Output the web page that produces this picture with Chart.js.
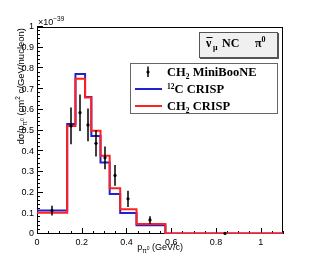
<!DOCTYPE html>
<html><head><meta charset="utf-8">
<script src="https://cdn.jsdelivr.net/npm/chart.js@4/dist/chart.umd.min.js"></script>
<style>html,body{margin:0;padding:0;background:#fff;}#wrap{width:315px;height:276px;}</style>
</head><body><div id="wrap"><canvas id="c" width="315" height="276"></canvas></div>
<script>
// ---- data (values in units of 1e-39 cm^2 c/GeV/nucleon) ----
const binEdges = [0, 0.135, 0.172, 0.215, 0.243, 0.284, 0.325, 0.372, 0.445, 0.574, 1.1];
const crispC12 = [0.113, 0.531, 0.773, 0.662, 0.474, 0.346, 0.193, 0.101, 0.042, 0.002];
const crispCH2 = [0.103, 0.522, 0.750, 0.660, 0.499, 0.378, 0.221, 0.119, 0.048, 0.003];
const dataX   = [0.067, 0.151, 0.193, 0.227, 0.263, 0.302, 0.347, 0.407, 0.504, 0.839];
const dataY   = [0.113, 0.522, 0.586, 0.527, 0.438, 0.368, 0.283, 0.170, 0.068, 0.003];
const dataErr = [0.024, 0.089, 0.088, 0.079, 0.063, 0.055, 0.050, 0.039, 0.018, 0.002];
const xTicks = [0, 0.2, 0.4, 0.6, 0.8, 1];
const yTicks = [0, 0.1, 0.2, 0.3, 0.4, 0.5, 0.6, 0.7, 0.8, 0.9, 1];
const legendLabels = ['CH', ' MiniBooNE', 'C CRISP', 'CH', ' CRISP'];

const BLUE = '#2222cc', RED = '#ff2020';

function histPoints(vals) {
  const pts = vals.map((v, i) => ({x: binEdges[i], y: v}));
  pts.push({x: binEdges[binEdges.length - 1], y: vals[vals.length - 1]});
  return pts;
}

const SANS = '"Liberation Sans", Arial, sans-serif';
const SERIF = '"Liberation Serif", "Times New Roman", serif';

function drawRuns(ctx, runs, x, y, align) {
  // runs: [text, fontSize, dy, bold, family]
  let total = 0;
  runs.forEach(r => { ctx.font = (r[3] ? 'bold ' : '') + r[1] + 'px ' + (r[4] || SANS); total += ctx.measureText(r[0]).width; });
  let cx = align === 'right' ? x - total : x;
  ctx.textAlign = 'left';
  runs.forEach(r => {
    ctx.font = (r[3] ? 'bold ' : '') + r[1] + 'px ' + (r[4] || SANS);
    ctx.fillText(r[0], cx, y + r[2]);
    cx += ctx.measureText(r[0]).width;
  });
  return total;
}

const rootDecor = {
  id: 'rootDecor',
  beforeDatasetsDraw(chart) {
    const {ctx, chartArea: a, scales: {x, y}} = chart;
    ctx.save();
    ctx.strokeStyle = '#000';
    ctx.lineWidth = 1;
    ctx.strokeRect(a.left + 0.5, a.top + 0.5, a.right - a.left - 1, a.bottom - a.top - 1);
    ctx.beginPath();
    for (let i = 0; i <= 50; i++) {
      const v = i * 0.02;
      const py = Math.round(y.getPixelForValue(v)) - 0.5;
      const len = (i % 5 === 0) ? 6 : 3;
      ctx.moveTo(a.left, py); ctx.lineTo(a.left + len, py);
    }
    for (let i = 0; i <= 22; i++) {
      const v = i * 0.05;
      const px = Math.round(x.getPixelForValue(v)) + 0.5;
      const len = (i % 4 === 0) ? 6 : 3;
      ctx.moveTo(px, a.bottom); ctx.lineTo(px, a.bottom - len);
    }
    ctx.stroke();
    ctx.restore();
  },
  afterDatasetsDraw(chart) {
    const {ctx, scales: {x, y}} = chart;
    ctx.save();
    ctx.strokeStyle = '#000';
    ctx.lineWidth = 1.5;
    ctx.beginPath();
    dataX.forEach((xv, i) => {
      const px = Math.round(x.getPixelForValue(xv));
      ctx.moveTo(px, y.getPixelForValue(dataY[i] + dataErr[i]));
      ctx.lineTo(px, y.getPixelForValue(Math.max(0, dataY[i] - dataErr[i])));
    });
    ctx.stroke();
    ctx.fillStyle = '#000';
    dataX.forEach((xv, i) => {
      ctx.beginPath();
      ctx.arc(Math.round(x.getPixelForValue(xv)), y.getPixelForValue(dataY[i]), 1.6, 0, Math.PI * 2);
      ctx.fill();
    });
    ctx.restore();
  },
  afterDraw(chart) {
    const {ctx, chartArea: a} = chart;
    ctx.save();
    ctx.fillStyle = '#000';
    ctx.textBaseline = 'alphabetic';
    // exponent
    drawRuns(ctx, [['\u00d710', 9, 0], ['\u221239', 6.5, -4]], 38, 25, 'left');
    // x title
    drawRuns(ctx, [['p', 9, 0], ['\u03c0', 6.5, 2.5], ['0', 5, -0.5], [' (GeV/c)', 9, 0]], 183, 250, 'right');
    // y title (rotated)
    ctx.save();
    ctx.translate(24, a.top + 1);
    ctx.rotate(-Math.PI / 2);
    drawRuns(ctx, [['d\u03c3/p', 9.5, 0], ['\u03c0', 6.5, 2.5], ['0', 5, -0.5], [' (cm', 9.5, 0], ['2', 6.5, -4], [' c/GeV/nucleon)', 9.5, 0]], 0, 0, 'right');
    ctx.restore();

    // title pave
    const bx = 199, by = 32, bw = 79, bh = 26;
    ctx.fillStyle = '#555';
    ctx.fillRect(bx + 1, by + 1, bw, bh);
    ctx.fillStyle = '#f0f0f0';
    ctx.fillRect(bx, by, bw, bh);
    ctx.strokeStyle = '#555';
    ctx.lineWidth = 1;
    ctx.strokeRect(bx + 0.5, by + 0.5, bw - 1, bh - 1);
    ctx.fillStyle = '#000';
    const tb = 47;
    ctx.font = 'bold 12px ' + SERIF;
    ctx.fillText('\u03bd', 206, tb);
    ctx.fillRect(206.5, tb - 10, 6, 1);
    drawRuns(ctx, [['\u03bc', 8, 2.5, true, SERIF]], 213, tb, 'left');
    drawRuns(ctx, [['NC', 12, 0, true, SERIF]], 222, tb, 'left');
    drawRuns(ctx, [['\u03c0', 12, 0, true, SERIF], ['0', 8, -5, true, SERIF]], 255, tb, 'left');

    // legend
    const lx = 130, ly = 63, lw = 148, lh = 51;
    ctx.fillStyle = '#fff';
    ctx.fillRect(lx, ly, lw, lh);
    ctx.strokeStyle = '#666';
    ctx.strokeRect(lx + 0.5, ly + 0.5, lw - 1, lh - 1);
    // marker entry
    ctx.strokeStyle = '#000';
    ctx.lineWidth = 1.5;
    ctx.beginPath(); ctx.moveTo(148, 66.5); ctx.lineTo(148, 77); ctx.stroke();
    ctx.fillStyle = '#000';
    ctx.beginPath(); ctx.arc(148, 72, 1.6, 0, Math.PI * 2); ctx.fill();
    ctx.lineWidth = 2;
    ctx.strokeStyle = chart.data.datasets[1].borderColor;
    ctx.beginPath(); ctx.moveTo(135, 89); ctx.lineTo(162, 89); ctx.stroke();
    ctx.strokeStyle = chart.data.datasets[2].borderColor;
    ctx.beginPath(); ctx.moveTo(135, 106); ctx.lineTo(162, 106); ctx.stroke();
    ctx.fillStyle = '#000';
    drawRuns(ctx, [[legendLabels[0], 12.5, 0, true, SERIF], ['2', 7.5, 2.5, true, SERIF], [legendLabels[1], 12.5, 0, true, SERIF]], 167, 76, 'left');
    drawRuns(ctx, [['12', 7.5, -4.5, true, SERIF], [legendLabels[2], 12.5, 0, true, SERIF]], 167, 93, 'left');
    drawRuns(ctx, [[legendLabels[3], 12.5, 0, true, SERIF], ['2', 7.5, 2.5, true, SERIF], [legendLabels[4], 12.5, 0, true, SERIF]], 167, 110, 'left');
    ctx.restore();
  }
};

new Chart(document.getElementById('c'), {
  type: 'line',
  data: {
    datasets: [
      {label: 'CH2 MiniBooNE', data: dataX.map((v, i) => ({x: v, y: dataY[i]})), showLine: false, pointRadius: 0, order: 0},
      {label: '12C CRISP', data: histPoints(crispC12), borderColor: BLUE, borderWidth: 2, stepped: 'before', pointRadius: 0, fill: false, order: 2},
      {label: 'CH2 CRISP', data: histPoints(crispCH2), borderColor: RED, borderWidth: 2, stepped: 'before', pointRadius: 0, fill: false, order: 1}
    ]
  },
  options: {
    responsive: false,
    animation: false,
    devicePixelRatio: 1,
    layout: {padding: {top: 27, right: 32, left: 0, bottom: 0}},
    plugins: {legend: {display: false}, tooltip: {enabled: false}, title: {display: false}},
    scales: {
      x: {
        type: 'linear', min: 0, max: 1.1,
        afterBuildTicks: s => { s.ticks = xTicks.map(v => ({value: v})); },
        afterFit: s => { s.height = 42; },
        grid: {display: false, drawTicks: false},
        border: {display: false},
        ticks: {padding: 3, color: '#000', font: {family: SANS, size: 9}, maxRotation: 0, autoSkip: false,
                callback: v => String(Math.round(v * 10) / 10)}
      },
      y: {
        type: 'linear', min: 0, max: 1,
        afterBuildTicks: s => { s.ticks = yTicks.map(v => ({value: v})); },
        afterFit: s => { s.width = 37; },
        grid: {display: false, drawTicks: false},
        border: {display: false},
        ticks: {padding: 3, color: '#000', font: {family: SANS, size: 9}, autoSkip: false,
                callback: v => String(Math.round(v * 10) / 10)}
      }
    }
  },
  plugins: [rootDecor]
});
</script></body></html>
